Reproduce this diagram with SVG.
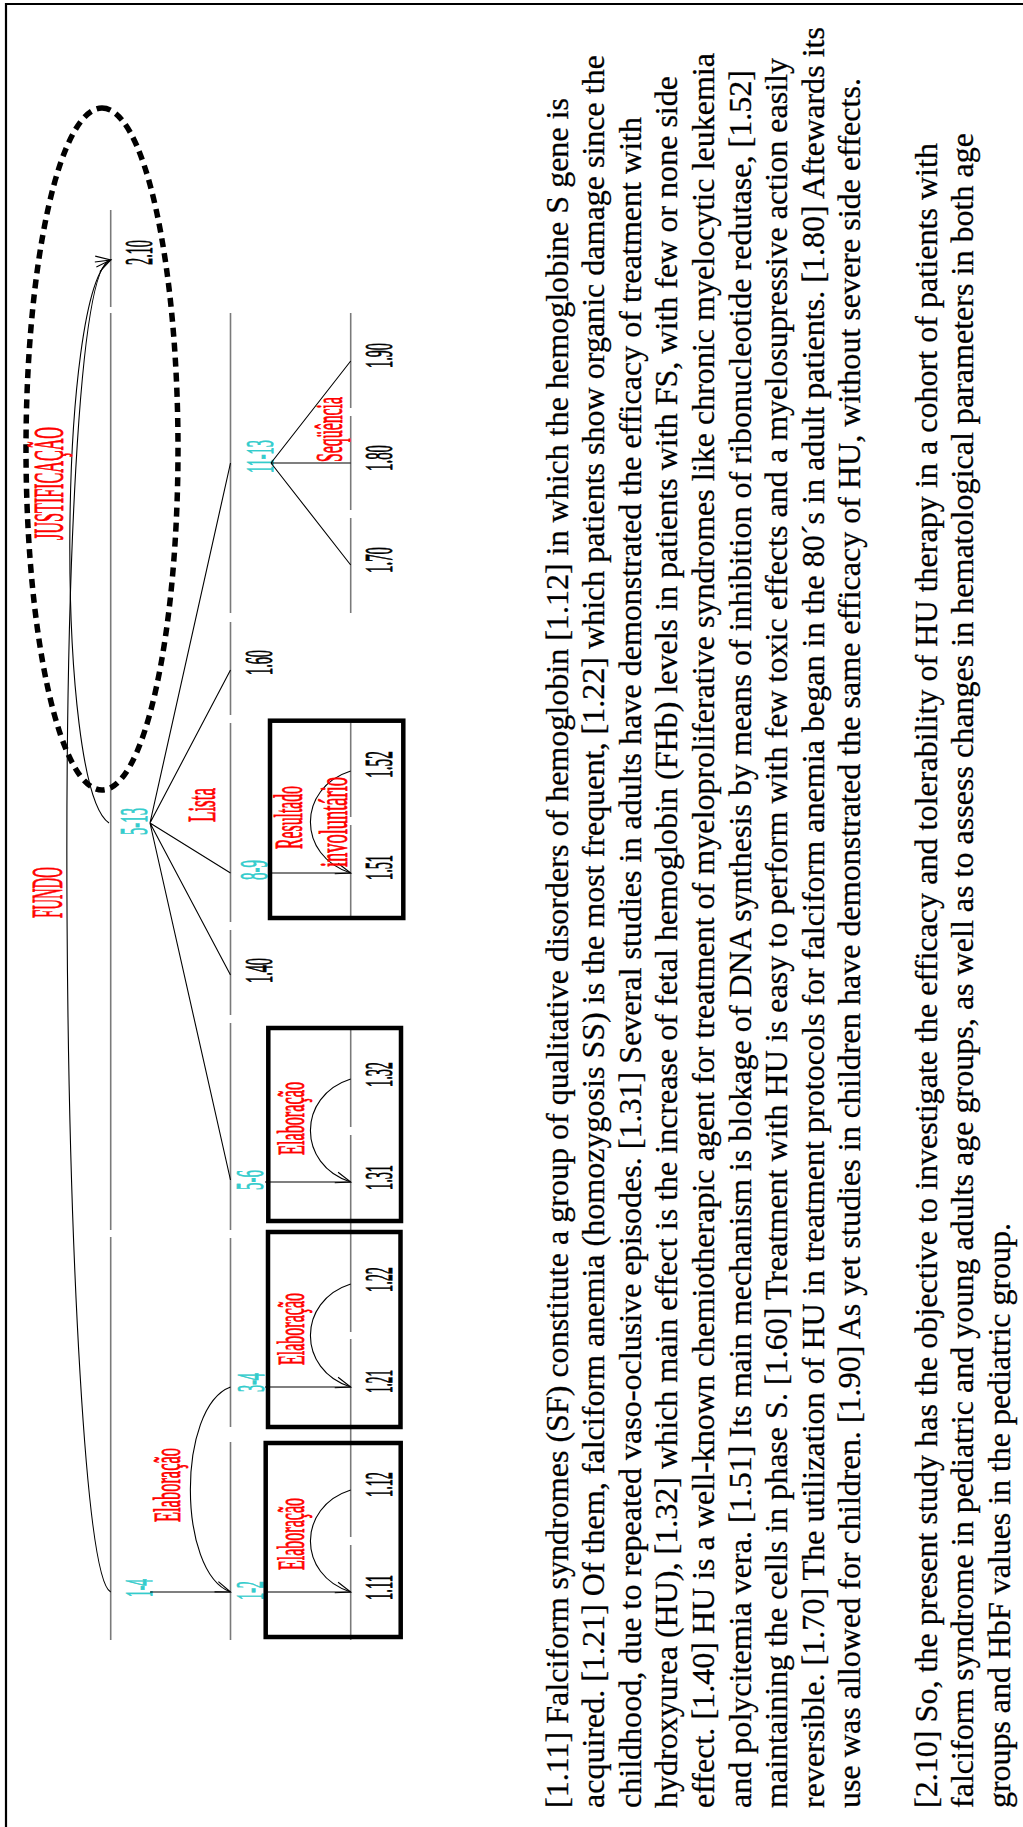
<svg xmlns="http://www.w3.org/2000/svg" width="1023" height="1827" viewBox="0 0 1023 1827">
<style>
.lvl{stroke:#7a7a7a;stroke-width:1.6;fill:none}
.ln{stroke:#000;stroke-width:1.1;fill:none}
.arc{stroke:#000;stroke-width:1.1;fill:none;marker-end:url(#ah)}
.box{fill:none;stroke:#000;stroke-width:4.5}
.lab{font-family:"Liberation Serif","Times New Roman",serif;font-size:40px;stroke-width:0.9}
.num{fill:#000;stroke:#000}
.cy{fill:#33cccc;stroke:#33cccc;font-size:41px}
.rd{fill:#ff0000;stroke:#ff0000;font-size:41px}
.body{font-family:"Liberation Serif","Times New Roman",serif;font-size:32px;fill:#000;stroke:#000;stroke-width:0.3}
</style>
<defs>
<marker id="ah" markerUnits="userSpaceOnUse" markerWidth="18" markerHeight="16" viewBox="-16 -8 18 16" refX="0" refY="0" orient="auto">
<path d="M-15,-5.5 L0,0 L-15,5.5" fill="none" stroke="#000" stroke-width="1.1"/>
</marker>
</defs>
<rect width="1023" height="1827" fill="#fff"/>
<path d="M6,1827 V4 H1023" fill="none" stroke="#000" stroke-width="2.2"/>
<g transform="matrix(0,-1,1,0,0,1827)">
<g id="n-1-4"><path class="lvl" d="M187,110.7 H590"/><text class="lab cy" x="230" y="152" textLength="18" lengthAdjust="spacingAndGlyphs">1-4</text></g>
<g id="n-5-13"><path class="lvl" d="M597,110.7 H1514"/><text class="lab cy" x="992" y="147" textLength="27" lengthAdjust="spacingAndGlyphs">5-13</text></g>
<g id="n-2-10"><path class="lvl" d="M1520,110.7 H1617"/><text class="lab num" x="1562" y="152" textLength="25" lengthAdjust="spacingAndGlyphs">2.10</text></g>
<g id="n-1-2"><path class="lvl" d="M187,230.5 H385"/><text class="lab cy" x="227" y="263" textLength="19" lengthAdjust="spacingAndGlyphs">1-2</text></g>
<g id="n-3-4"><path class="lvl" d="M400,230.5 H589"/><text class="lab cy" x="435" y="264" textLength="19" lengthAdjust="spacingAndGlyphs">3-4</text></g>
<g id="n-5-6"><path class="lvl" d="M597,230.5 H804"/><text class="lab cy" x="637" y="263" textLength="20" lengthAdjust="spacingAndGlyphs">5-6</text></g>
<g id="n-1-40"><path class="lvl" d="M812,230.5 H897"/><text class="lab num" x="844" y="271.5" textLength="25" lengthAdjust="spacingAndGlyphs">1.40</text></g>
<g id="n-8-9"><path class="lvl" d="M905,230.5 H1104"/><text class="lab cy" x="947" y="267" textLength="20" lengthAdjust="spacingAndGlyphs">8-9</text></g>
<g id="n-1-60"><path class="lvl" d="M1112,230.5 H1205"/><text class="lab num" x="1152" y="271.5" textLength="25" lengthAdjust="spacingAndGlyphs">1.60</text></g>
<g id="n-11-13"><path class="lvl" d="M1214,230.5 H1514"/><text class="lab cy" x="1354" y="273" textLength="33" lengthAdjust="spacingAndGlyphs">11-13</text></g>
<g id="n-1-11"><path class="lvl" d="M187,350.7 H282"/><text class="lab num" x="227" y="392" textLength="25" lengthAdjust="spacingAndGlyphs">1.11</text></g>
<g id="n-1-12"><path class="lvl" d="M290,350.7 H394"/><text class="lab num" x="330" y="392" textLength="25" lengthAdjust="spacingAndGlyphs">1.12</text></g>
<g id="n-1-21"><path class="lvl" d="M394,350.7 H488"/><text class="lab num" x="434" y="392" textLength="23" lengthAdjust="spacingAndGlyphs">1.21</text></g>
<g id="n-1-22"><path class="lvl" d="M495,350.7 H597"/><text class="lab num" x="535" y="392" textLength="25" lengthAdjust="spacingAndGlyphs">1.22</text></g>
<g id="n-1-31"><path class="lvl" d="M597,350.7 H692"/><text class="lab num" x="637" y="392" textLength="25" lengthAdjust="spacingAndGlyphs">1.31</text></g>
<g id="n-1-32"><path class="lvl" d="M700,350.7 H799"/><text class="lab num" x="740" y="392" textLength="25" lengthAdjust="spacingAndGlyphs">1.32</text></g>
<g id="n-1-51"><path class="lvl" d="M908,350.7 H1002"/><text class="lab num" x="947" y="392" textLength="25" lengthAdjust="spacingAndGlyphs">1.51</text></g>
<g id="n-1-52"><path class="lvl" d="M1010,350.7 H1106"/><text class="lab num" x="1049" y="392" textLength="27" lengthAdjust="spacingAndGlyphs">1.52</text></g>
<g id="n-1-70"><path class="lvl" d="M1214,350.7 H1309"/><text class="lab num" x="1254" y="392" textLength="26" lengthAdjust="spacingAndGlyphs">1.70</text></g>
<g id="n-1-80"><path class="lvl" d="M1317,350.7 H1411"/><text class="lab num" x="1356" y="392" textLength="26" lengthAdjust="spacingAndGlyphs">1.80</text></g>
<g id="n-1-90"><path class="lvl" d="M1419,350.7 H1514"/><text class="lab num" x="1459" y="392" textLength="25" lengthAdjust="spacingAndGlyphs">1.90</text></g>
<g id="box-1-2"><rect class="box" x="190" y="265.7" width="194" height="135"/></g>
<g id="box-3-4"><rect class="box" x="400" y="268" width="195" height="132.5"/></g>
<g id="box-5-6"><rect class="box" x="606" y="268.3" width="193" height="132.7"/></g>
<g id="box-8-9"><rect class="box" x="909" y="270" width="197.3" height="133.3"/></g>
<g id="justification-ellipse"><ellipse cx="1378" cy="102" rx="341" ry="76" fill="none" stroke="#000" stroke-width="5.5" stroke-dasharray="9 6"/></g>
<g id="connectors">
<path class="ln" d="M235,150 V230.5"/>
<path class="ln" d="M1004,150 L647,230.5 M1004,150 L852,230.5 M1004,150 L954,230.5 M1004,150 L1157,230.5 M1004,150 L1364,230.5"/>
<path class="ln" d="M235,265 V350.7 M440,265 V350.7 M645,265 V350.7 M954,270 V350.7"/>
<path class="ln" d="M1364,271 L1262,350.7 M1364,271 L1364,350.7 M1364,271 L1466,350.7"/>
<path class="arc" d="M440,230.5 C420,177 255,177 235,230.5"/>
<path class="arc" d="M337,350.7 C320,297 252,297 235,350.7"/>
<path class="arc" d="M543,350.7 C526,297 457,297 440,350.7"/>
<path class="arc" d="M748,350.7 C731,297 662,297 645,350.7"/>
<path class="arc" d="M1056,350.7 C1039,297 971,297 954,350.7"/>
<path class="arc" d="M235,110.7 C260,60 1560,45 1567,110.7"/>
<path class="arc" d="M1004,109 C1040,55 1540,58 1567,110.7"/>
</g>
<g id="relation-labels">
<text class="lab rd" style="font-size:44px" x="909" y="62" textLength="51" lengthAdjust="spacingAndGlyphs">FUNDO</text>
<text class="lab rd" style="font-size:42px" x="1287" y="63" textLength="113" lengthAdjust="spacingAndGlyphs">JUSTIFICAÇÃO</text>
<text class="lab rd" x="1005" y="215" textLength="34" lengthAdjust="spacingAndGlyphs">Lista</text>
<text class="lab rd" style="font-size:38px" x="305" y="180" textLength="74" lengthAdjust="spacingAndGlyphs">Elaboração</text>
<text class="lab rd" style="font-size:38px" x="257" y="304" textLength="72" lengthAdjust="spacingAndGlyphs">Elaboração</text>
<text class="lab rd" style="font-size:38px" x="462" y="304" textLength="72" lengthAdjust="spacingAndGlyphs">Elaboração</text>
<text class="lab rd" style="font-size:38px" x="672" y="304" textLength="73" lengthAdjust="spacingAndGlyphs">Elaboração</text>
<text class="lab rd" x="978" y="302" textLength="63" lengthAdjust="spacingAndGlyphs">Resultado</text>
<text class="lab rd" x="960" y="347" textLength="90" lengthAdjust="spacingAndGlyphs">involuntário</text>
<text class="lab rd" style="font-size:38px" x="1365" y="342" textLength="65" lengthAdjust="spacingAndGlyphs">Seqüência</text>
</g>
<g id="text-body" class="body">
<text x="19" y="567.5" textLength="1710" lengthAdjust="spacing">[1.11] Falciform syndromes (SF) constitute a group of qualitative disorders of hemoglobin [1.12] in which the hemoglobine S gene is</text>
<text x="19" y="604.1" textLength="1753" lengthAdjust="spacing">acquired. [1.21] Of them, falciform anemia (homozygosis SS) is the most frequent, [1.22] which patients show organic damage since the</text>
<text x="19" y="640.7" textLength="1691" lengthAdjust="spacing">childhood, due to repeated vaso-oclusive episodes. [1.31] Several studies in adults have demonstrated the efficacy of treatment with</text>
<text x="19" y="677.3" textLength="1732" lengthAdjust="spacing">hydroxyurea (HU), [1.32] which main effect is the increase of fetal hemoglobin (FHb) levels in patients with FS, with few or none side</text>
<text x="19" y="713.9" textLength="1755" lengthAdjust="spacing">effect. [1.40] HU is a well-known chemiotherapic agent for treatment of myeloproliferative syndromes like chronic myelocytic leukemia</text>
<text x="19" y="750.5" textLength="1738" lengthAdjust="spacing">and polycitemia vera. [1.51] Its main mechanism is blokage of DNA synthesis by means of inhibition of ribonucleotide redutase, [1.52]</text>
<text x="19" y="787.1" textLength="1750" lengthAdjust="spacing">maintaining the cells in phase S. [1.60] Treatment with HU is easy to perform with few toxic effects and a myelosupressive action easily</text>
<text x="19" y="823.7" textLength="1781" lengthAdjust="spacing">reversible. [1.70] The utilization of HU in treatment protocols for falciform anemia began in the 80´s in adult patients. [1.80] Aftewards its</text>
<text x="19" y="860.3" textLength="1730" lengthAdjust="spacing">use was allowed for children. [1.90] As yet studies in children have demonstrated the same efficacy of HU, without severe side effects.</text>
<text x="19" y="936.5" textLength="1665" lengthAdjust="spacing">[2.10] So, the present study has the objective to investigate the efficacy and tolerability of HU therapy in a cohort of patients with</text>
<text x="19" y="973.1" textLength="1675" lengthAdjust="spacing">falciform syndrome in pediatric and young adults age groups, as well as to assess changes in hematological parameters in both age</text>
<text x="19" y="1009.7" textLength="585" lengthAdjust="spacing">groups and HbF values in the pediatric group.</text>
</g>
</g>
</svg>
